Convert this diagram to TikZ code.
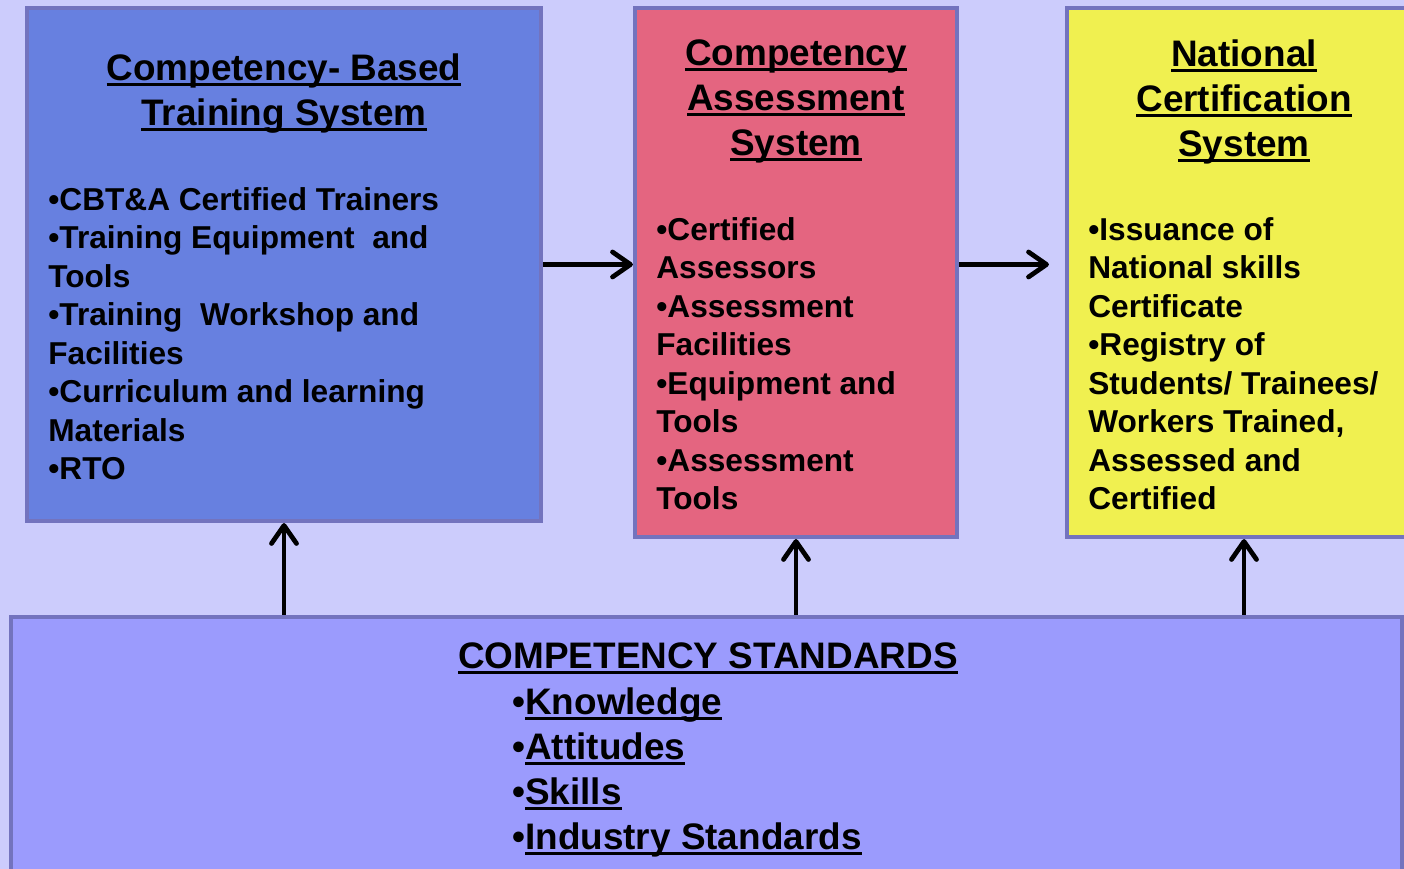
\documentclass[tikz,border=0pt]{standalone}
\usepackage{fontspec}
\setmainfont{Liberation Sans}
\usetikzlibrary{arrows.meta}
\definecolor{pagebg}{RGB}{204,204,252}
\definecolor{trainfill}{RGB}{103,128,224}
\definecolor{assessfill}{RGB}{228,101,128}
\definecolor{certfill}{RGB}{240,240,80}
\definecolor{stdfill}{RGB}{155,155,253}
\definecolor{boxrule}{RGB}{115,115,190}
% thick underline just under the baseline (descenders run through it)
\newcommand{\ulined}[1]{\vtop{\hbox{\raisebox{0pt}[\height][0pt]{#1}}\kern1.8pt\hrule height 1.7pt}}
\tikzset{
  sysbox/.style={rectangle,draw=boxrule,line width=2.4pt,inner sep=0pt},
  headtext/.style={align=center,inner sep=0pt,font=\bfseries\fontsize{21pt}{25.6pt}\selectfont},
  itemtext/.style={align=left,inner sep=0pt,font=\bfseries\fontsize{18pt}{21.9pt}\selectfont},
  edge/.style={-{Straight Barb[length=3.6mm,width=5mm,round]},line width=2.7pt}
}

\begin{document}
\begin{tikzpicture}
  \useasboundingbox (0,0) rectangle (28.08,17.38);
  \clip (0,0) rectangle (28.08,17.38);
  \fill[pagebg] (0,0) rectangle (28.08,17.38);

  % the three systems and the standards underneath
  \node[sysbox,fill=trainfill,minimum width=10.28cm,minimum height=10.26cm] (cbt) at (5.68,12.09) {};
  \node[sysbox,fill=assessfill,minimum width=6.44cm,minimum height=10.58cm] (cas) at (15.92,11.93) {};
  \node[sysbox,fill=certfill,minimum width=7.08cm,minimum height=10.58cm] (ncs) at (24.88,11.93) {};
  \node[sysbox,fill=stdfill,minimum width=27.82cm,minimum height=5.46cm] (std) at (14.13,2.31) {};

  \node[headtext,anchor=north] (cbthead) at (5.68,16.32) {\ulined{Competency- Based}\\\ulined{Training System}};
  \node[itemtext,anchor=north west] (cbtlist) at (0.96,13.64) {
    •CBT\&A Certified Trainers\\
    •Training Equipment~ and\\
    Tools\\
    •Training~ Workshop and\\
    Facilities\\
    •Curriculum and learning\\
    Materials\\
    •RTO};

  \node[headtext,anchor=north] (cashead) at (15.92,16.6) {\ulined{Competency}\\\ulined{Assessment}\\\ulined{System}};
  \node[itemtext,anchor=north west] (caslist) at (13.12,13.04) {
    •Certified\\
    Assessors\\
    •Assessment\\
    Facilities\\
    •Equipment and\\
    Tools\\
    •Assessment\\
    Tools};

  \node[headtext,anchor=north] (ncshead) at (24.88,16.6) {\ulined{National}\\\ulined{Certification}\\\ulined{System}};
  \node[itemtext,anchor=north west] (ncslist) at (21.76,13.04) {
    •Issuance of\\
    National skills\\
    Certificate\\
    •Registry of\\
    Students/ Trainees/\\
    Workers Trained,\\
    Assessed and\\
    Certified};

  \node[headtext,anchor=north] (stdhead) at (14.16,4.54) {\ulined{COMPETENCY STANDARDS}};
  \node[headtext,align=left,anchor=north west] (stdlist) at (10.24,3.64) {
    •\ulined{Knowledge}\\
    •\ulined{Attitudes}\\
    •\ulined{Skills}\\
    •\ulined{Industry Standards}};

  % flow between the systems
  \draw[edge] (cbt.east) -- (cbt.east -| cas.west);
  \draw[edge,shorten >=0.32cm] (cas.east |- cbt.east) -- (cbt.east -| ncs.west);
  \draw[edge] (std.north -| cbt.south) -- (cbt.south);
  \draw[edge] (std.north -| cas.south) -- (cas.south);
  \draw[edge] (std.north -| ncs.south) -- (ncs.south);
\end{tikzpicture}
\end{document}
